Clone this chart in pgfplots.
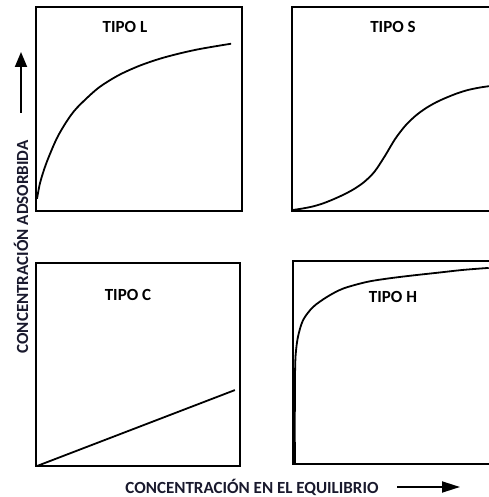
\documentclass[border=0pt]{standalone}
\usepackage{pgfplots}
\pgfplotsset{compat=1.18}
\usepackage{fontspec}
\setmainfont{Carlito}
\definecolor{lbl}{RGB}{25,25,45}
\usetikzlibrary{arrows.meta}
\pgfplotsset{panel/.style={scale only axis, xmin=0, xmax=1, ymin=0, ymax=1, ticks=none,
  axis line style={line width=1.8pt}, anchor=south west, clip=false},
  curve/.style={line width=1.8pt, black, smooth, no markers}}
\begin{document}
\begin{tikzpicture}
% TIPO L
\begin{axis}[panel, at={(36pt,286pt)}, width=206pt, height=204pt]
\addplot[curve] coordinates {(0.005,0.06) (0.02,0.139) (0.05,0.234) (0.1,0.354) (0.15,0.441) (0.2,0.507) (0.3,0.601) (0.4,0.665) (0.5,0.711) (0.6,0.746) (0.7,0.773) (0.8,0.795) (0.947,0.820)};
\end{axis}
% TIPO S
\begin{axis}[panel, at={(292pt,286pt)}, width=206pt, height=204pt]
\addplot[curve] coordinates {(0.005,0.005) (0.05,0.012) (0.10,0.022) (0.15,0.037) (0.20,0.057) (0.25,0.080) (0.30,0.107) (0.35,0.142) (0.40,0.192) (0.45,0.268) (0.50,0.352) (0.55,0.418) (0.60,0.467) (0.65,0.504) (0.70,0.533) (0.75,0.556) (0.80,0.576) (0.85,0.592) (0.90,0.603) (0.95,0.611) (1.0,0.617)};
\end{axis}
% TIPO C
\begin{axis}[panel, at={(36pt,31pt)}, width=204pt, height=203pt]
\addplot[curve, sharp plot] coordinates {(0.005,0) (0.975,0.374)};
\end{axis}
% TIPO H
\begin{axis}[panel, at={(293pt,33pt)}, width=206pt, height=203pt]
\addplot[curve] coordinates {(0.009,0) (0.009,0.3) (0.010,0.45) (0.013,0.54) (0.024,0.626) (0.049,0.709) (0.097,0.773) (0.165,0.823) (0.243,0.864) (0.359,0.897) (0.47,0.915) (0.583,0.929) (0.7,0.942) (0.825,0.956) (0.95,0.966)};
\end{axis}
\begin{scope}[every node/.style={font=\bfseries\fontsize{17}{20}\selectfont, inner sep=0pt}]
\node at (125pt,470pt) {TIPO L};
\node at (393pt,470pt) {TIPO S};
\node at (128pt,202pt) {TIPO C};
\node at (393pt,200pt) {TIPO H};
\node[rotate=90, text=lbl] at (21pt,250pt) {CONCENTRACIÓN ADSORBIDA};
\node[text=lbl] at (252pt,10pt) {CONCENTRACIÓN EN EL EQUILIBRIO};
\end{scope}
\draw[line width=1.8pt, -{Triangle[length=15pt, width=12pt]}] (21pt,384pt) -- (21pt,445pt);
\draw[line width=1.8pt, -{Triangle[length=18pt, width=11pt]}] (397pt,10pt) -- (460pt,10pt);
\pgfresetboundingbox
\path[use as bounding box] (0,0) rectangle (488pt,497pt);
\end{tikzpicture}
\end{document}
